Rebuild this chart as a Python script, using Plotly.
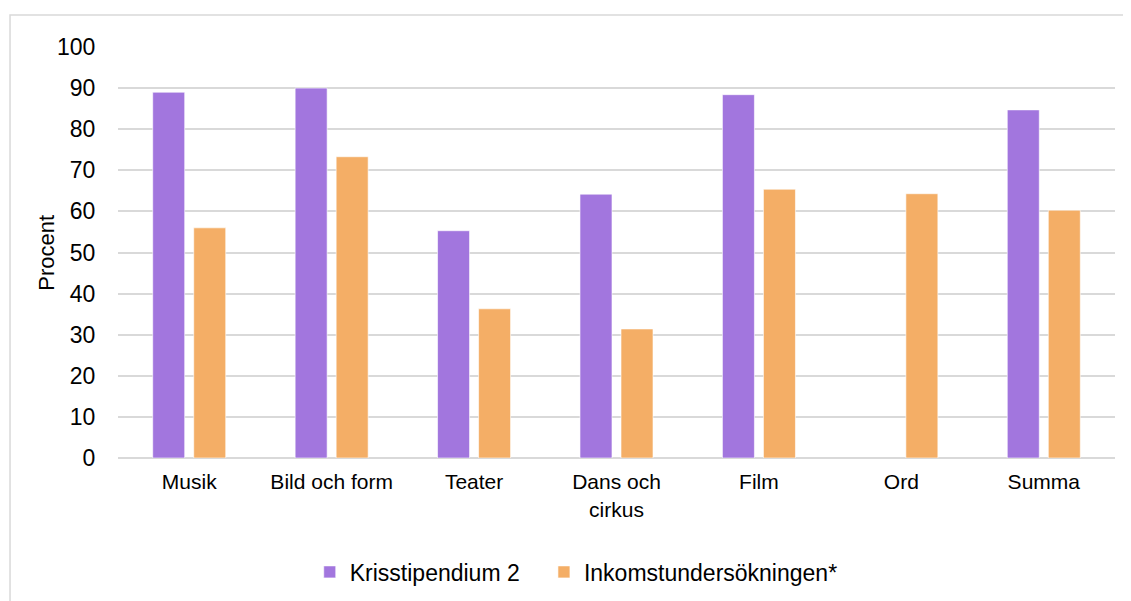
import plotly.graph_objects as go

categories = ["Musik", "Bild och form", "Teater", "Dans och<br>cirkus", "Film", "Ord", "Summa"]
kris = [89.0, 90.0, 55.3, 64.2, 88.4, None, 84.7]
inkomst = [56.0, 73.3, 36.3, 31.4, 65.4, 64.3, 60.3]

purple = "#A276DE"
orange = "#F4AE66"
grid = "#D9D9D9"
font = "Liberation Sans, Arial, sans-serif"

fig = go.Figure()
# trailing no-break spaces widen the first legend entry a little
fig.add_trace(go.Bar(x=categories, y=kris, name="Krisstipendium 2" + "\u00a0" * 3,
                     marker=dict(color=purple, line=dict(color="rgba(255,255,255,0.6)", width=1))))
fig.add_trace(go.Bar(x=categories, y=inkomst, name="Inkomstundersökningen*",
                     marker=dict(color=orange, line=dict(color="rgba(255,255,255,0.6)", width=1))))

# page body has an 8px margin, so the figure is 8px smaller than the window
fig.update_layout(
    width=1123, height=593,
    margin=dict(l=110, r=16, t=39, b=143),
    plot_bgcolor="white", paper_bgcolor="white",
    font=dict(family=font, color="#000000"),
    barmode="group", bargap=0.424, bargroupgap=0.22,
    showlegend=True,
    legend=dict(orientation="h", xref="container", yref="container",
                x=0.506, xanchor="center", y=0.049, yanchor="middle",
                font=dict(size=23), traceorder="normal", itemwidth=30),
    shapes=[dict(type="rect", xref="paper", yref="paper",
                 x0=-0.1083, x1=1.2, y0=-0.6, y1=1.0779,
                 line=dict(color=grid, width=1.5), layer="below")],
    annotations=[dict(text="Procent", xref="paper", yref="paper", x=-0.072, y=0.5,
                      xanchor="center", yanchor="middle", textangle=-90,
                      showarrow=False, font=dict(size=22))],
)
fig.update_xaxes(showgrid=False, showline=False, tickfont=dict(size=21), automargin=False,
                 ticks="outside", ticklen=5, tickcolor="rgba(0,0,0,0)")
fig.update_yaxes(range=[0, 100], dtick=10, showgrid=True, gridcolor=grid, gridwidth=1.5,
                 zeroline=True, zerolinecolor=grid, zerolinewidth=1.5, showline=False,
                 automargin=False,
                 tickfont=dict(size=23), ticks="outside", ticklen=17, tickcolor="rgba(0,0,0,0)")

fig.write_html("out.html")
